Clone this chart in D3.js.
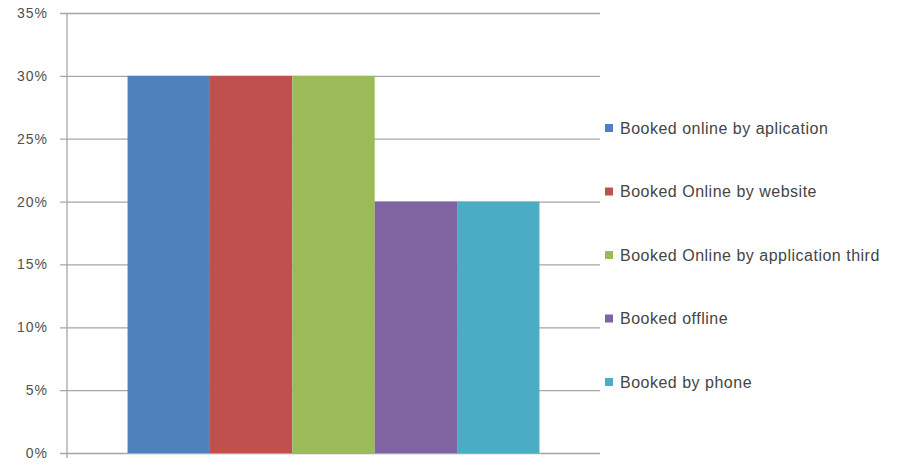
<!DOCTYPE html>
<html>
<head>
<meta charset="utf-8">
<script src="https://cdn.jsdelivr.net/npm/d3@7"></script>
<style>
  body { margin: 0; background: #fff; }
  svg { display: block; }
</style>
</head>
<body>
<div id="chart"></div>
<script>
// data
var categories = ["Booking"];
var seriesNames = ["Booked online by aplication", "Booked Online by website",
    "Booked Online by application third", "Booked offline", "Booked by phone"];
var seriesValues = [0.30, 0.30, 0.30, 0.20, 0.20];
var seriesColors = ["#4F81BD", "#C0504D", "#9BBB59", "#8064A2", "#4BACC6"];
var yTicks = [0, 0.05, 0.10, 0.15, 0.20, 0.25, 0.30, 0.35];

var w = 912;
var h = 464;
var plotL = 67, plotR = 600, plotT = 13, plotB = 453;

var svg = d3.select("#chart")
    .append("svg")
    .attr("width", w)
    .attr("height", h);

var yScale = d3.scaleLinear()
    .domain([0, 0.35])
    .range([plotB, plotT]);

var x0 = d3.scaleBand()
    .domain(categories)
    .range([plotL, plotR])
    .paddingInner(0)
    .paddingOuter(0.147);

var x1 = d3.scaleBand()
    .domain(seriesNames)
    .range([0, x0.bandwidth()])
    .padding(0);

// gridlines + tick labels
var yAxis = d3.axisLeft(yScale)
    .tickValues(yTicks)
    .tickFormat(d3.format(".0%"))
    .tickSize(-(plotR - plotL + 7))
    .tickPadding(12);

var gAxis = svg.append("g")
    .attr("transform", "translate(" + (plotL - 7) + ",0)")
    .call(yAxis);
gAxis.select(".domain").remove();
gAxis.selectAll(".tick line")
    .attr("stroke", "#a6a6a6")
    .attr("stroke-width", 1.3);
gAxis.selectAll(".tick text")
    .attr("fill", "#505050")
    .attr("font-family", "Liberation Sans, Arial, sans-serif")
    .attr("font-size", "14px")
    .attr("letter-spacing", "1px");

// vertical axis line
svg.append("line")
    .attr("x1", plotL).attr("x2", plotL)
    .attr("y1", plotT).attr("y2", plotB + 5)
    .attr("stroke", "#a6a6a6")
    .attr("stroke-width", 1.3);

// bars
svg.append("g")
    .selectAll("rect")
    .data(seriesValues)
    .enter()
    .append("rect")
    .attr("x", function(d, i) { return x0(categories[0]) + x1(seriesNames[i]); })
    .attr("y", function(d) { return yScale(d); })
    .attr("width", x1.bandwidth())
    .attr("height", function(d) { return plotB - yScale(d); })
    .attr("fill", function(d, i) { return seriesColors[i]; });

// legend
var legY = d3.scalePoint()
    .domain(seriesNames)
    .range([128, 382]);

var leg = svg.append("g")
    .selectAll("g")
    .data(seriesNames)
    .enter()
    .append("g")
    .attr("transform", function(d) { return "translate(605," + legY(d) + ")"; });
leg.append("rect")
    .attr("x", 0).attr("y", -4)
    .attr("width", 8).attr("height", 8)
    .attr("fill", function(d, i) { return seriesColors[i]; });
leg.append("text")
    .attr("x", 15)
    .attr("y", 0)
    .attr("dy", "0.35em")
    .attr("fill", "#454545")
    .attr("font-family", "Liberation Sans, Arial, sans-serif")
    .attr("font-size", "16px")
    .attr("letter-spacing", "0.5px")
    .text(function(d) { return d; });
</script>
</body>
</html>
